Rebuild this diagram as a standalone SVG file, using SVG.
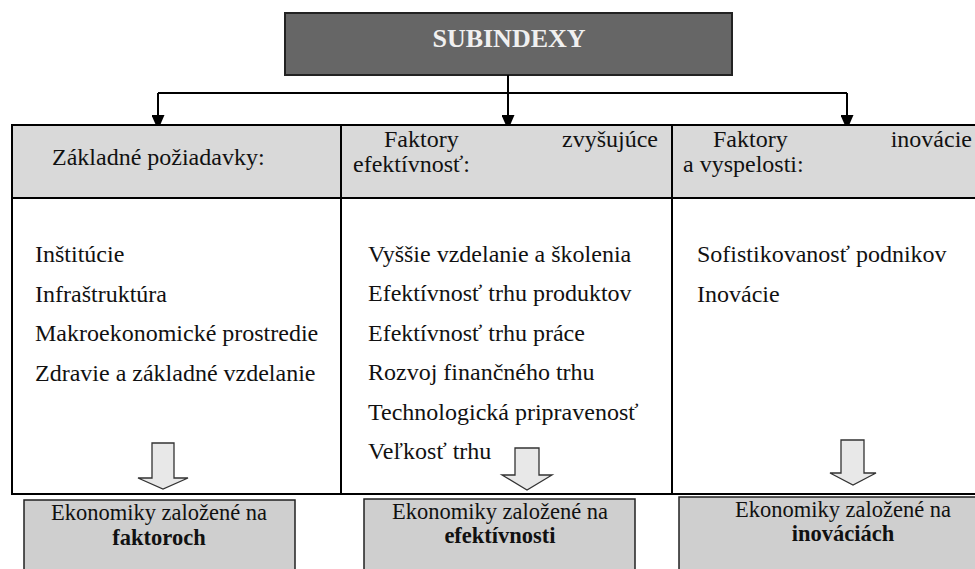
<svg xmlns="http://www.w3.org/2000/svg" width="975" height="569" viewBox="0 0 975 569">
<style>
text{font-family:'Liberation Serif','Times New Roman',serif}
.t{font-size:24px;fill:#111}
.b{font-size:22.5px;fill:#111;text-anchor:middle}
.bb{font-weight:bold}
.ln{stroke:#000;stroke-width:2;fill:none}
.hollow{fill:#e8e8e8;stroke:#333;stroke-width:1.3}
.box{fill:#cfcfcf;stroke:#222;stroke-width:1.5}
</style>
<defs>
<marker id="ad" markerWidth="15" markerHeight="13" refX="13" refY="6.5" orient="auto" markerUnits="userSpaceOnUse" viewBox="0 0 15 13">
<path d="M0,0 L15,6.5 L0,13 Z" fill="#000"/>
</marker>
</defs>

<g id="subindexy">
<rect x="285" y="13" width="447" height="62" fill="#666" stroke="#222" stroke-width="2"/>
<text x="509" y="47" text-anchor="middle" font-size="26" font-weight="bold" fill="#f0f0f0">SUBINDEXY</text>
</g>

<g id="connectors">
<path class="ln" d="M508,75 V128" marker-end="url(#ad)"/>
<path class="ln" d="M158,93 H847"/>
<path class="ln" d="M158,93 V128" marker-end="url(#ad)"/>
<path class="ln" d="M847,93 V128" marker-end="url(#ad)"/>
</g>

<g id="table">
<rect x="12" y="125" width="970" height="73" fill="#d9d9d9"/>
<path class="ln" d="M11,125 H975 M11,198 H975 M11,494 H975 M12,125 V494 M341,125 V494 M672,125 V494"/>
</g>

<g id="col1">
<text class="t" x="52" y="165">Základné požiadavky:</text>
<text class="t" x="35" y="262">Inštitúcie</text>
<text class="t" x="35" y="302">Infraštruktúra</text>
<text class="t" x="35" y="341">Makroekonomické prostredie</text>
<text class="t" x="35" y="381">Zdravie a základné vzdelanie</text>
<path class="hollow" d="M152,443 H174 V478 H188 L163,489 L138,478 H152 Z"/>
</g>

<g id="col2">
<text class="t" x="384" y="147">Faktory</text>
<text class="t" x="658" y="147" text-anchor="end">zvyšujúce</text>
<text class="t" x="353" y="172">efektívnosť:</text>
<text class="t" x="368" y="262">Vyššie vzdelanie a školenia</text>
<text class="t" x="368" y="301">Efektívnosť trhu produktov</text>
<text class="t" x="368" y="341">Efektívnosť trhu práce</text>
<text class="t" x="368" y="380">Rozvoj finančného trhu</text>
<text class="t" x="368" y="420">Technologická pripravenosť</text>
<text class="t" x="368" y="459">Veľkosť trhu</text>
<path class="hollow" d="M515,448 H539 V475 H552 L527,490 L502,475 H515 Z"/>
</g>

<g id="col3">
<text class="t" x="713" y="147">Faktory</text>
<text class="t" x="972" y="147" text-anchor="end">inovácie</text>
<text class="t" x="683" y="172">a vyspelosti:</text>
<text class="t" x="697" y="262">Sofistikovanosť podnikov</text>
<text class="t" x="697" y="302">Inovácie</text>
<path class="hollow" d="M841,440 H864 V473 H876 L853,485 L830,473 H841 Z"/>
</g>

<g id="out1">
<rect class="box" x="24" y="500" width="271" height="80"/>
<text class="b" x="159" y="520">Ekonomiky založené na</text>
<text class="b bb" x="159" y="545">faktoroch</text>
</g>
<g id="out2">
<rect class="box" x="364" y="499" width="271" height="80"/>
<text class="b" x="500" y="519">Ekonomiky založené na</text>
<text class="b bb" x="500" y="543">efektívnosti</text>
</g>
<g id="out3">
<rect class="box" x="679" y="497" width="310" height="80"/>
<text class="b" x="843" y="517">Ekonomiky založené na</text>
<text class="b bb" x="843" y="541">inováciách</text>
</g>
</svg>
